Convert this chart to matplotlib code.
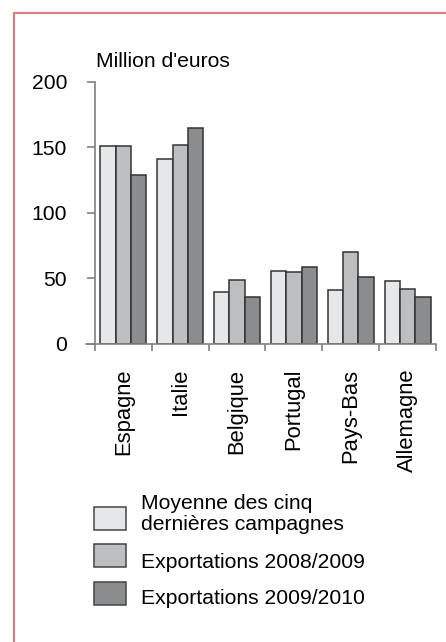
import numpy as np
import matplotlib
matplotlib.use('Agg')
import matplotlib.pyplot as plt
from matplotlib.lines import Line2D
from matplotlib.patches import Rectangle

pays = ['Espagne', 'Italie', 'Belgique', 'Portugal', 'Pays-Bas', 'Allemagne']
moyenne = [151, 141, 40, 56, 41, 48]
export_0809 = [151, 152, 49, 55, 70, 42]
export_0910 = [129, 165, 36, 59, 51, 36]
series_labels = [['Moyenne des cinq', 'dernières campagnes'],
                 ['Exportations 2008/2009'],
                 ['Exportations 2009/2010']]
colors = ['#e6e7e8', '#bcbec0', '#8a8c8e']

plt.rcParams['font.family'] = ['Liberation Sans', 'DejaVu Sans']
plt.rcParams['font.size'] = 15.2

W, H = 446, 642
fig = plt.figure(figsize=(W/100, H/100), dpi=100)
ax = fig.add_axes([86/W, 1-344/H, 350/W, 262/H])

x = np.arange(len(pays)) + 0.5
w = 0.27
for k, vals in enumerate([moyenne, export_0809, export_0910]):
    ax.bar(x + (k-1)*w, vals, w, color=colors[k], edgecolor='#333333',
           linewidth=1.1, zorder=2)

ax.set_xlim(-9/57, 6)
ax.set_ylim(0, 200)
ax.set_yticks([0, 50, 100, 150, 200])
ax.set_xticks(x)
ax.set_xticklabels(pays, rotation=90, va='top', fontsize=15.8)
ax.set_xticks(np.arange(len(pays)+1), minor=True)

for s in ['top', 'right']:
    ax.spines[s].set_visible(False)
ax.spines['left'].set_position(('data', 0))
ax.spines['left'].set_color('#808080')
ax.spines['bottom'].set_color('#808080')
ax.spines['left'].set_linewidth(1.2)
ax.spines['bottom'].set_linewidth(1.2)
ax.tick_params(axis='y', length=6, width=1.2, color='#808080', pad=14)
ax.tick_params(axis='x', which='major', length=0, pad=18)
ax.tick_params(axis='x', which='minor', length=5, width=1.2, color='#808080')

fig.text(96/W, 1-67/H, "Million d'euros", ha='left', va='baseline')

# legend drawn by hand: patch tops and text baselines in pixels
patch_tops = [507, 544, 582]
text_baselines = [[509, 530], [568], [604]]
for k in range(3):
    fig.add_artist(Rectangle((94/W, 1-(patch_tops[k]+23)/H), 32/W, 23/H,
                             transform=fig.transFigure, facecolor=colors[k],
                             edgecolor='#444444', linewidth=1.1))
    for line, yb in zip(series_labels[k], text_baselines[k]):
        fig.text(141/W, 1-yb/H, line, ha='left', va='baseline')

red = '#e07b7b'
fig.add_artist(Line2D([14/W, 1], [1-13/H, 1-13/H], color=red, lw=1.5))
fig.add_artist(Line2D([14/W, 14/W], [0, 1-13/H], color=red, lw=1.5))

fig.savefig('out.png', dpi=100)
